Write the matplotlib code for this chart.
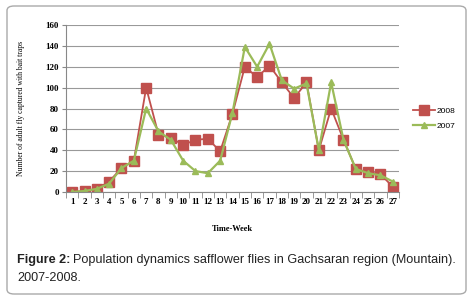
import matplotlib.pyplot as plt
from matplotlib.patches import FancyBboxPatch

weeks = list(range(1, 28))
y2008 = [0, 1, 3, 10, 23, 30, 100, 55, 52, 45, 50, 51, 39, 75, 120, 110, 121,
         105, 90, 105, 40, 80, 50, 22, 19, 17, 5]
y2007 = [0, 1, 3, 8, 23, 30, 80, 58, 50, 30, 20, 18, 30, 76, 139, 120, 142,
         107, 99, 104, 40, 105, 50, 22, 18, 16, 10]

red = '#C0504D'
green = '#9BBB59'

fig = plt.figure(figsize=(4.74, 3.01), dpi=100)

# rounded frame round the whole figure
box = FancyBboxPatch((7 / 474, 7 / 301), 459 / 474, 288 / 301,
                     boxstyle='round,pad=0,rounding_size=0.015',
                     transform=fig.transFigure, fill=False,
                     edgecolor='#AAAAAA', linewidth=1.0)
fig.patches.append(box)

ax = fig.add_axes([66 / 474, 1 - 192 / 301, 333 / 474, 167 / 301])

x = [w - 0.5 for w in weeks]
ax.plot(x, y2008, color=red, marker='s', markersize=6.5, linewidth=1.3, label='2008')
ax.plot(x, y2007, color=green, marker='^', markersize=4, linewidth=1.6, label='2007')

ax.set_xlim(0, 27)
ax.set_ylim(0, 160)
ax.set_yticks(range(0, 161, 20))
ax.set_xticks(x)
ax.set_xticklabels([str(w) for w in weeks])
ax.set_xticks(range(0, 28), minor=True)

for lab in ax.get_xticklabels() + ax.get_yticklabels():
    lab.set_fontfamily('Liberation Serif')
    lab.set_fontweight('bold')
    lab.set_fontsize(6.5)

ax.tick_params(axis='x', which='major', length=0, pad=4)
ax.tick_params(axis='x', which='minor', length=4, color='#888888')
ax.tick_params(axis='y', length=3, color='#888888', pad=2)
ax.grid(axis='y', color='#999999', linewidth=0.8)
ax.set_axisbelow(True)
for s in ['top', 'right']:
    ax.spines[s].set_visible(False)
ax.spines['left'].set_color('#888888')
ax.spines['bottom'].set_color('#888888')

ax.set_xlabel('Time-Week', fontfamily='Liberation Serif', fontweight='bold',
              fontsize=6, labelpad=14)
ax.set_ylabel('Number of adult fly captured with bait traps',
              fontfamily='Liberation Serif', fontsize=5.5, labelpad=15)

ax.legend(loc='center left', bbox_to_anchor=(1.02, 0.44), frameon=False,
          prop=dict(family='Liberation Sans', size=6), handlelength=2.6,
          handletextpad=0.2, labelspacing=0.9)

cap = dict(fontfamily='Liberation Sans', fontsize=9.1, color='#222222', va='center')
t1 = fig.text(17 / 474, 1 - 260 / 301, 'Figure 2:', fontweight='bold', **cap)
r = fig.canvas.get_renderer()
bb = t1.get_window_extent(r)
fig.text((bb.x1 + 3) / 474, 1 - 260 / 301,
         'Population dynamics safflower flies in Gachsaran region (Mountain).',
         **cap)
fig.text(17 / 474, 1 - 278 / 301, '2007-2008.', **cap)

fig.savefig('out.png', dpi=100)
